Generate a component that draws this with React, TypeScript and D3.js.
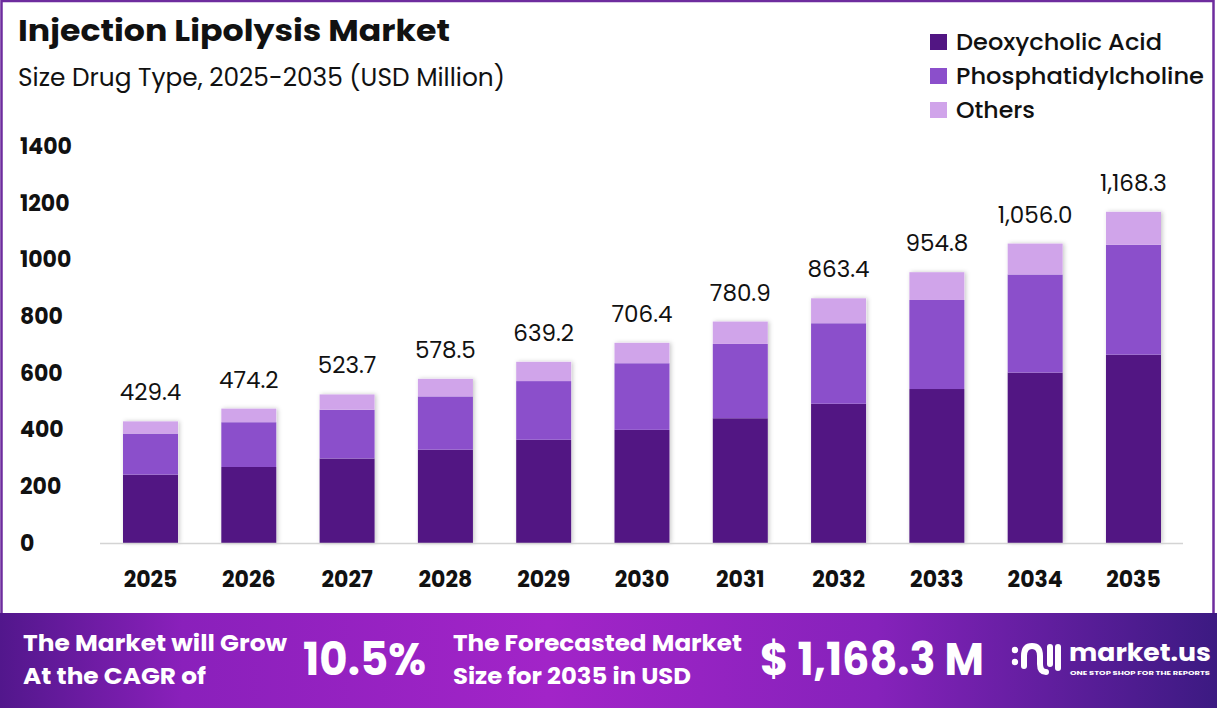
import React from "react";
import * as d3 from "d3";

const years = ["2025", "2026", "2027", "2028", "2029", "2030", "2031", "2032", "2033", "2034", "2035"];
const deoxycholic = [241, 268, 298, 329, 364, 399, 440, 491, 543, 601, 664];
const phosphatidylcholine = [145, 158, 172, 188, 207, 235, 262, 284, 314, 346, 388];
const others = [43, 48, 54, 62, 68, 72, 79, 88, 98, 109, 116];
const totals = [429.4, 474.2, 523.7, 578.5, 639.2, 706.4, 780.9, 863.4, 954.8, 1056.0, 1168.3];
const yTicks = [0, 200, 400, 600, 800, 1000, 1200, 1400];
const seriesNames = ["Deoxycholic Acid", "Phosphatidylcholine", "Others"];
const legendWidths = [206, 248, 79];
const colors = ["#521683", "#8b4fcb", "#d0a4ea"];

const W = 1217;
const H = 708;
const FONT = "Poppins, Inter, 'Open Sans', sans-serif";

export default function App() {
  const x = d3.scaleBand<string>().domain(years).range([100, 1184]).paddingInner(0.44).paddingOuter(0.234);
  const y = d3.scaleLinear().domain([0, 1400]).range([543, 146]);
  const rows = years.map((yr, i) => ({
    year: yr,
    [seriesNames[0]]: deoxycholic[i],
    [seriesNames[1]]: phosphatidylcholine[i],
    [seriesNames[2]]: others[i],
  }));
  const stacked = d3.stack<any>().keys(seriesNames)(rows);
  const top = stacked[stacked.length - 1];
  const fmt = d3.format(",.1f");

  return (
    <svg width={W} height={H} style={{ position: "absolute", left: 0, top: 0, display: "block", background: "#fff" }} fontFamily={FONT}>
      <defs>
        <linearGradient id="banner" x1="0" x2="1" y1="0" y2="0">
          <stop offset="0" stopColor="#52178c" />
          <stop offset="0.15" stopColor="#8a20bb" />
          <stop offset="0.45" stopColor="#a224c8" />
          <stop offset="0.72" stopColor="#8622bb" />
          <stop offset="1" stopColor="#3c1a82" />
        </linearGradient>
        <filter id="shadow" x="-30%" y="-10%" width="160%" height="120%">
          <feDropShadow dx="1.5" dy="0" stdDeviation="2.2" floodColor="#000" floodOpacity="0.22" />
        </filter>
      </defs>
      <rect x={0} y={0} width={W} height={H} fill="#fff" />
      <rect x={1.5} y={1} width={1212} height={620} fill="none" stroke="#6e2c9e" strokeWidth={2.5} />

      {/* Title */}
      <text x={18} y={41} fontSize={30} fontWeight={700} fill="#111" textLength={432} lengthAdjust="spacingAndGlyphs">Injection Lipolysis Market</text>
      <text x={18} y={86} fontSize={24} fontWeight={400} fill="#111" textLength={487} lengthAdjust="spacingAndGlyphs">Size Drug Type, 2025-2035 (USD Million)</text>

      {/* Legend */}
      {seriesNames.map((s, i) => (
        <g key={s} transform={`translate(930, ${34 + i * 34})`}>
          <rect x={0} y={0} width={17} height={16} fill={colors[i]} />
          <text x={26} y={16} fontSize={23} fontWeight={500} fill="#111" textLength={legendWidths[i]} lengthAdjust="spacingAndGlyphs">{s}</text>
        </g>
      ))}

      {/* Y axis labels */}
      {yTicks.map((t) => (
        <text key={t} x={20} y={y(t)} dy="0.36em" fontSize={22} fontWeight={700} fill="#111">{t}</text>
      ))}

      {/* Bar shadows */}
      {top.map((d, i) => (
        <rect key={i} x={x(years[i])} y={y(d[1])} width={x.bandwidth()} height={y(0) - y(d[1])} fill="#fff" filter="url(#shadow)" />
      ))}

      {/* Bars */}
      {stacked.map((layer, li) => (
        <g key={layer.key} fill={colors[li]}>
          {layer.map((d, i) => (
            <rect key={i} x={x(years[i])} y={y(d[1])} width={x.bandwidth()} height={y(d[0]) - y(d[1])} />
          ))}
        </g>
      ))}

      {/* Baseline */}
      <line x1={100} x2={1183} y1={543.5} y2={543.5} stroke="#d4d4d4" strokeWidth={1.5} />

      {/* Value labels */}
      {years.map((yr, i) => (
        <text key={yr} x={(x(yr) as number) + x.bandwidth() / 2} y={y(totals[i]) - 21} textAnchor="middle" fontSize={23} fontWeight={400} fill="#111">{fmt(totals[i])}</text>
      ))}

      {/* X labels */}
      {years.map((yr) => (
        <text key={yr} x={(x(yr) as number) + x.bandwidth() / 2} y={587} textAnchor="middle" fontSize={22} fontWeight={700} fill="#111">{yr}</text>
      ))}

      {/* Banner */}
      <rect x={0} y={613} width={W} height={95} fill="url(#banner)" />
      <g fill="#fff" fontWeight={700}>
        <text x={23} y={651} fontSize={22} textLength={264} lengthAdjust="spacingAndGlyphs">The Market will Grow</text>
        <text x={23} y={684} fontSize={22} textLength={183} lengthAdjust="spacingAndGlyphs">At the CAGR of</text>
        <text x={303} y={675} fontSize={46} textLength={123} lengthAdjust="spacingAndGlyphs">10.5%</text>
        <text x={453} y={651} fontSize={22} textLength={289} lengthAdjust="spacingAndGlyphs">The Forecasted Market</text>
        <text x={453} y={684} fontSize={22} textLength={238} lengthAdjust="spacingAndGlyphs">Size for 2035 in USD</text>
        <text x={760} y={675} fontSize={45} textLength={224} lengthAdjust="spacingAndGlyphs">$ 1,168.3 M</text>
      </g>

      {/* Logo */}
      <g fill="none" stroke="#fff" strokeLinecap="round" strokeWidth={6}>
        <circle cx={1015} cy={650} r={3.2} fill="#fff" stroke="none" />
        <circle cx={1015} cy={662} r={3.2} fill="#fff" stroke="none" />
        <path d="M1024,666 L1024,656 Q1024,646 1032,646 Q1040,646 1040,656 L1040,664 Q1040,672 1046,672" />
        <line x1={1050} y1={647} x2={1050} y2={664} />
        <line x1={1058} y1={647} x2={1058} y2={668} />
      </g>
      <text x={1069} y={661} fontSize={24} fontWeight={700} fill="#fff" textLength={142} lengthAdjust="spacingAndGlyphs">market.us</text>
      <text x={1070} y={675} fontSize={5} fontWeight={700} fill="#fff" textLength={140} lengthAdjust="spacingAndGlyphs">ONE STOP SHOP FOR THE REPORTS</text>
    </svg>
  );
}
